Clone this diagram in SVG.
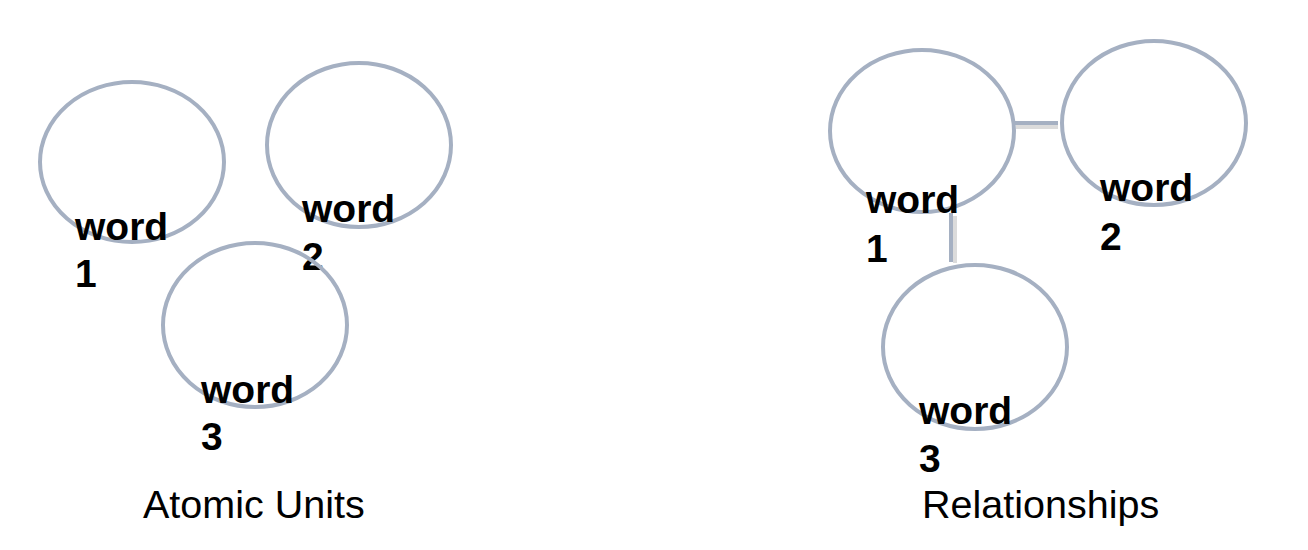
<svg xmlns="http://www.w3.org/2000/svg" width="1308" height="550" viewBox="0 0 1308 550">
<style>
.n{fill:none;stroke:#a5b0c2;stroke-width:4}
.w{font-family:"Liberation Sans",Arial,sans-serif;font-weight:bold;font-size:39px;fill:#000}
.c{font-family:"Liberation Sans",Arial,sans-serif;font-size:39.5px;fill:#000}
.e{stroke:#a5b0c2;stroke-width:4;fill:none}
.s{stroke:#cccccc;stroke-width:4;fill:none;opacity:0.7}
</style>
<rect width="1308" height="550" fill="#fff"/>
<g id="a1"><ellipse class="n" cx="132" cy="162" rx="92" ry="80"/><text class="w" x="75" y="240">word</text><text class="w" x="75" y="287">1</text></g>
<g id="a2"><ellipse class="n" cx="359" cy="145" rx="92" ry="82"/><text class="w" x="302" y="222">word</text><text class="w" x="302" y="270">2</text></g>
<g id="a3"><ellipse class="n" cx="255" cy="325" rx="92" ry="82"/><text class="w" x="201" y="403">word</text><text class="w" x="201" y="450">3</text></g>
<text class="c" x="143" y="518">Atomic Units</text>
<g id="connectors">
<line class="s" x1="1016" y1="127" x2="1058" y2="127"/>
<line class="e" x1="1013" y1="123" x2="1058" y2="123"/>
<line class="s" x1="955" y1="216" x2="955" y2="263"/>
<line class="e" x1="951" y1="213" x2="951" y2="262"/>
</g>
<g id="r1"><ellipse class="n" cx="922" cy="131" rx="92" ry="81"/><text class="w" x="866" y="213">word</text><text class="w" x="866" y="262">1</text></g>
<g id="r2"><ellipse class="n" cx="1154" cy="123" rx="92" ry="82"/><text class="w" x="1100" y="201">word</text><text class="w" x="1100" y="250">2</text></g>
<g id="r3"><ellipse class="n" cx="975" cy="347" rx="92" ry="82"/><text class="w" x="919" y="424">word</text><text class="w" x="919" y="472">3</text></g>
<text class="c" x="922" y="518">Relationships</text>
</svg>
